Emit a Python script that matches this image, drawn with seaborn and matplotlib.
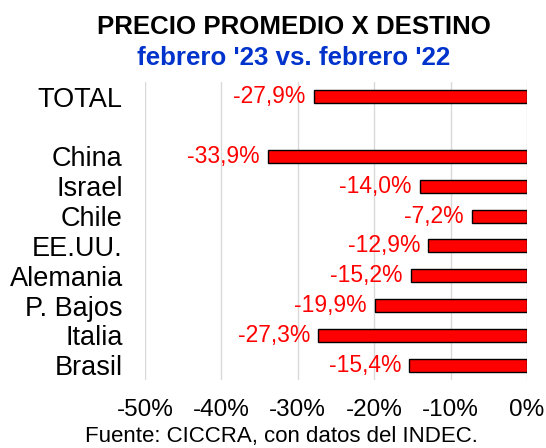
import numpy as np
import matplotlib
matplotlib.use("Agg")
import matplotlib.pyplot as plt
import pandas as pd
import seaborn as sns

sns.set_style("white")
plt.rcParams['font.family'] = ['Liberation Sans', 'DejaVu Sans']
plt.rcParams['text.color'] = 'black'
plt.rcParams['xtick.color'] = 'black'
plt.rcParams['ytick.color'] = 'black'

destinos = ["TOTAL", " ", "China", "Israel", "Chile", "EE.UU.", "Alemania", "P. Bajos", "Italia", "Brasil"]
variacion = [-27.9, np.nan, -33.9, -14.0, -7.2, -12.9, -15.2, -19.9, -27.3, -15.4]
xticks = [-50, -40, -30, -20, -10, 0]

df = pd.DataFrame({"destino": destinos, "var": variacion})

fig = plt.figure(figsize=(5.46, 4.48), dpi=100)
ax = fig.add_axes([145 / 546, 1 - 380 / 448, 382 / 546, 298 / 448])

sns.barplot(data=df, y="destino", x="var", order=destinos, color="#FF0000",
            edgecolor="black", linewidth=1, width=0.43, saturation=1, ax=ax)

for c in ax.containers:
    labels = ["" if np.isnan(v) else f"{v:.1f}%".replace(".", ",") for v in c.datavalues]
    ax.bar_label(c, labels=labels, padding=6, color="#FF0000", fontsize=16.5)

ax.set_xlim(-50, 0)
ax.set_xticks(xticks)
ax.set_xticklabels([f"{t}%" for t in xticks], fontsize=17.5)
ax.tick_params(axis="x", pad=14, length=0)
ax.tick_params(axis="y", pad=16, length=0, labelsize=19.5)
ax.grid(axis="x", color="#D9D9D9", linewidth=1)
ax.set_axisbelow(True)
for s in ax.spines.values():
    s.set_visible(False)
ax.set_xlabel("")
ax.set_ylabel("")

fig.text(294 / 546, 1 - 27 / 448, "PRECIO PROMEDIO X DESTINO", ha="center", va="center",
         fontsize=18.6, fontweight="bold", color="black")
fig.text(294 / 546, 1 - 58 / 448, "febrero '23 vs. febrero '22", ha="center", va="center",
         fontsize=18.6, fontweight="bold", color="#0033CC")
fig.text(281 / 546, 1 - 436 / 448, "Fuente: CICCRA, con datos del INDEC.", ha="center", va="center",
         fontsize=16, color="black")

fig.savefig("out.png", dpi=100)
